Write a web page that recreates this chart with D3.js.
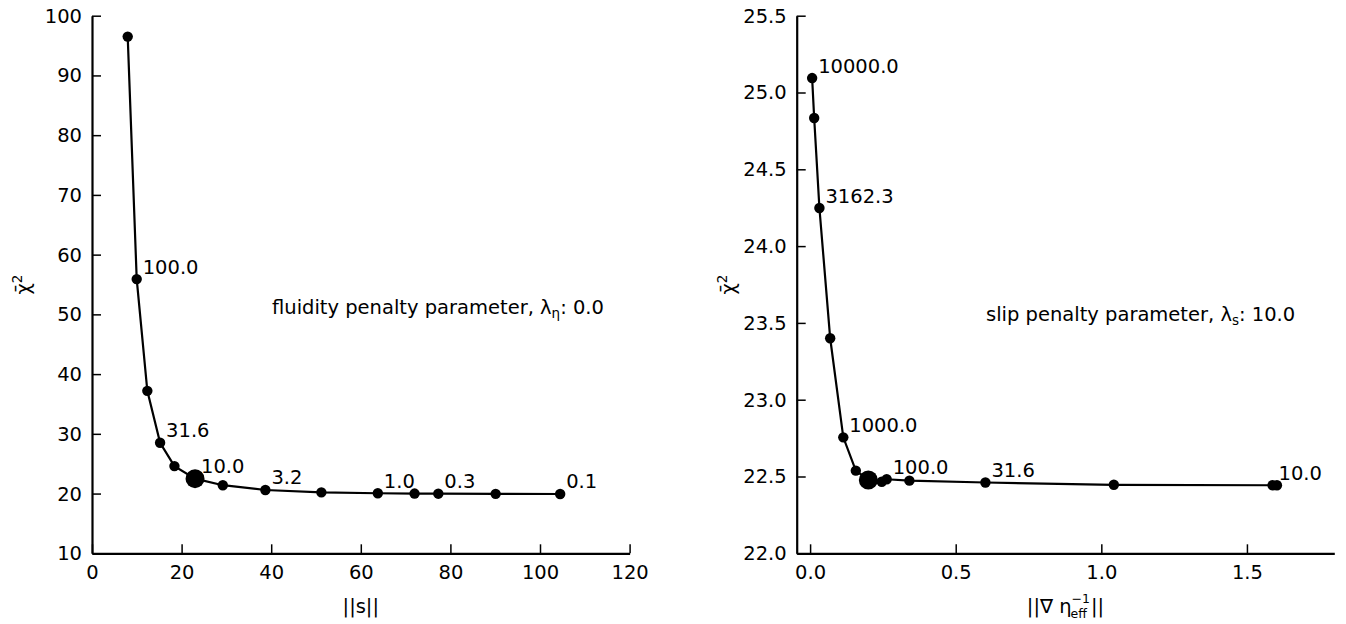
<!DOCTYPE html>
<html>
<head>
<meta charset="utf-8">
<script src="https://cdn.jsdelivr.net/npm/d3@7"></script>
<style>
	body { margin: 0; background: #fff; }
	svg { display: block; font-family: "DejaVu Sans", sans-serif; }
	.axis text { font-size: 19.5px; fill: #000; font-family: "DejaVu Sans", sans-serif; }
	.axis line { stroke: #000; stroke-width: 1.5; }
	.axis path { stroke: #000; stroke-width: 2.2; }
	.curve { fill: none; stroke: #000; stroke-width: 2.2; }
	.lbl { font-size: 19.5px; fill: #000; }
</style>
</head>
<body>
<svg id="chart" width="1346" height="624"></svg>
<script>
// left panel: fluidity regularisation sweep
const leftNorm = [7.97, 9.98, 12.35, 15.2, 18.4, 23.0, 29.2, 38.7, 51.2, 63.8, 72.0, 77.3, 90.1, 104.5];
const leftChi = [96.5, 55.9, 37.2, 28.5, 24.6, 22.5, 21.4, 20.6, 20.2, 20.05, 20.0, 19.98, 19.95, 19.93];
const leftLabels = ['', '100.0', '', '31.6', '', '10.0', '', '3.2', '', '1.0', '', '0.3', '', '0.1'];
const leftPick = 5;
const leftXTicks = [0, 20, 40, 60, 80, 100, 120];
const leftYTicks = [10, 20, 30, 40, 50, 60, 70, 80, 90, 100];

// right panel: slip regularisation sweep
const rightNorm = [0.007, 0.014, 0.032, 0.069, 0.114, 0.157, 0.200, 0.246, 0.263, 0.341, 0.602, 1.043, 1.588, 1.603];
const rightChi = [25.094, 24.834, 24.248, 23.40, 22.755, 22.538, 22.477, 22.466, 22.482, 22.473, 22.461, 22.446, 22.443, 22.443];
const rightLabels = ['10000.0', '', '3162.3', '', '1000.0', '', '', '', '100.0', '', '31.6', '', '10.0', ''];
const rightPick = 6;
const rightXTicks = [0, 0.5, 1.0, 1.5];
const rightYTicks = [22.0, 22.5, 23.0, 23.5, 24.0, 24.5, 25.0, 25.5];

const svg = d3.select('#chart');
const yTop = 15.7, yBottom = 553.3;

function panel(opts) {
	const xScale = d3.scaleLinear().domain(opts.xDomain).range([opts.left, opts.left + 537.6]);
	const yScale = d3.scaleLinear().domain(opts.yDomain).range([yBottom, yTop]);
	const g = svg.append('g');

	g.append('g')
		.attr('class', 'axis')
		.attr('transform', 'translate(0,' + yBottom + ')')
		.call(d3.axisBottom(xScale).tickValues(opts.xTicks).tickSizeInner(-9).tickSizeOuter(0)
			.tickPadding(12).tickFormat(opts.xFmt));

	g.append('g')
		.attr('class', 'axis')
		.attr('transform', 'translate(' + opts.left + ',0)')
		.call(d3.axisLeft(yScale).tickValues(opts.yTicks).tickSizeInner(-9).tickSizeOuter(0)
			.tickPadding(10).tickFormat(opts.yFmt))
		.selectAll('text').attr('dy', '0.33em');

	const pts = opts.x.map((v, i) => [v, opts.y[i], opts.labels[i]]);

	g.append('path')
		.datum(pts)
		.attr('class', 'curve')
		.attr('d', d3.line().x(d => xScale(d[0])).y(d => yScale(d[1])));

	g.selectAll('circle')
		.data(pts)
		.enter()
		.append('circle')
		.attr('cx', d => xScale(d[0]))
		.attr('cy', d => yScale(d[1]))
		.attr('r', (d, i) => i === opts.pick ? 9.5 : 5.2)
		.attr('fill', '#000');

	g.selectAll('text.pt')
		.data(pts.filter(d => d[2] !== ''))
		.enter()
		.append('text')
		.attr('class', 'pt lbl')
		.attr('x', d => xScale(d[0]) + 6)
		.attr('y', d => yScale(d[1]) - 5.5)
		.text(d => d[2]);

	// y label: chi-bar squared
	const yl = g.append('text')
		.attr('class', 'lbl')
		.attr('transform', 'translate(' + (opts.left - 62) + ',' + ((yTop + yBottom) / 2) + ') rotate(-90)')
		.attr('text-anchor', 'middle');
	yl.append('tspan').text('\u03C7\u0304');
	yl.append('tspan').style('font-size', '13.5px').attr('dy', '-8').text('2');

	// parameter note
	const note = g.append('text')
		.attr('class', 'lbl')
		.attr('x', opts.noteX)
		.attr('y', opts.noteY);
	note.append('tspan').text(opts.note[0]);
	note.append('tspan').style('font-size', '13.5px').attr('dy', '4').text(opts.note[1]);
	note.append('tspan').attr('dy', '-4').text(opts.note[2]);

	return xScale;
}

panel({
	left: 92, xDomain: [0, 120], yDomain: [10, 100],
	xTicks: leftXTicks, yTicks: leftYTicks,
	xFmt: d3.format('d'), yFmt: d3.format('d'),
	x: leftNorm, y: leftChi, labels: leftLabels, pick: leftPick,
	note: ['fluidity penalty parameter, \u03BB', '\u03B7', ': 0.0'], noteX: 272, noteY: 314
});

panel({
	left: 796.7, xDomain: [-0.046, 1.8], yDomain: [22, 25.5],
	xTicks: rightXTicks, yTicks: rightYTicks,
	xFmt: d3.format('.1f'), yFmt: d3.format('.1f'),
	x: rightNorm, y: rightChi, labels: rightLabels, pick: rightPick,
	note: ['slip penalty parameter, \u03BB', 's', ': 10.0'], noteX: 986, noteY: 321
});

// x labels
svg.append('text')
	.attr('class', 'lbl')
	.attr('x', 360.8)
	.attr('y', 613)
	.attr('text-anchor', 'middle')
	.text('||s||');

const xl = svg.append('g');
const base = xl.append('text').attr('class', 'lbl').attr('x', 0).attr('y', 613).text('||\u2207 \u03B7');
const w0 = base.node().getComputedTextLength();
const sub = xl.append('text').attr('class', 'lbl').style('font-size', '12.5px').attr('x', w0 - 1).attr('y', 618).text('eff');
const sup = xl.append('text').attr('class', 'lbl').style('font-size', '12.5px').attr('x', w0).attr('y', 603).text('\u22121');
const w1 = Math.max(sub.node().getComputedTextLength(), sup.node().getComputedTextLength());
const tail = xl.append('text').attr('class', 'lbl').attr('x', w0 + w1 + 1).attr('y', 613).text('||');
const total = w0 + w1 + 1 + tail.node().getComputedTextLength();
xl.attr('transform', 'translate(' + (1065.5 - total / 2) + ',0)');
</script>
</body>
</html>
